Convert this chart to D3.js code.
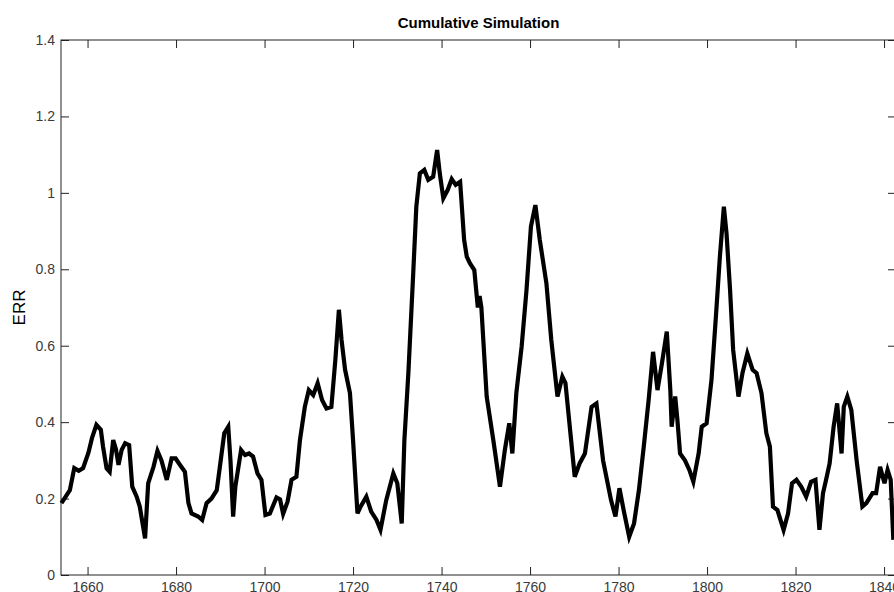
<!DOCTYPE html>
<html>
<head>
<meta charset="utf-8">
<script src="https://cdn.jsdelivr.net/npm/d3@7"></script>
<style>
  body { margin: 0; background: #fff; }
  svg { display: block; font-family: "Liberation Sans", Arial, sans-serif; }
</style>
</head>
<body>
<script>
// values
var years = [1654.1, 1656, 1657, 1658, 1659, 1660.2, 1661, 1662, 1663, 1663.5, 1664.3, 1665, 1665.8, 1666.4, 1667, 1667.7, 1668.5, 1669.4,
  1670.1, 1671.1, 1671.8, 1673, 1673.7, 1674.9, 1675.8, 1676.7, 1677.9, 1679, 1679.9, 1680.9, 1682, 1682.8, 1683.5, 1685, 1685.9,
  1686.9, 1688, 1689.2, 1689.9, 1690.9, 1691.8, 1692.3, 1692.9, 1693.4, 1694.7, 1695.6, 1696.5, 1697.4, 1698.4, 1699.3, 1700.2,
  1701.2, 1702.7, 1703.5, 1704.2, 1705.2, 1706.1, 1707.2, 1708, 1709.1, 1710, 1711, 1712, 1713, 1714, 1715.1, 1716, 1716.8,
  1717.4, 1718.2, 1719.3, 1720, 1721, 1721.7, 1723, 1724.1, 1725.3, 1726.2, 1727.5, 1729.1, 1730, 1731, 1731.6, 1732.5, 1733.6,
  1734.3, 1735.1, 1736.1, 1737, 1738.1, 1739, 1739.6, 1740.4, 1741.4, 1742.3, 1743.2, 1744.2, 1745.1, 1745.7, 1746.4, 1747.4,
  1748.2, 1748.6, 1749, 1750.2, 1751.7, 1753.2, 1754.3, 1755.3, 1756, 1756.9, 1758.1, 1759.2, 1760.2, 1761.2, 1762.2, 1763.7,
  1764.8, 1766.2, 1767.3, 1768, 1770.1, 1771.2, 1772.4, 1773.9, 1775, 1776.5, 1778.3, 1779.3, 1780.2, 1781.3, 1782.4, 1783.5,
  1784.6, 1785.7, 1786.8, 1787.8, 1788.8, 1789.8, 1790.9, 1791.7, 1792, 1792.8, 1793.3, 1793.9, 1795, 1796, 1796.9, 1798.1,
  1798.8, 1799.9, 1801, 1802, 1802.9, 1803.8, 1804.4, 1805.2, 1805.9, 1807.1, 1808, 1809.1, 1810.3, 1811.2, 1812.3, 1813.4,
  1814.2, 1814.9, 1815.9, 1817.3, 1818.3, 1819.2, 1820.2, 1821.3, 1822.4, 1823.5, 1824.5, 1825.4, 1826.2, 1826.9, 1827.7,
  1828.6, 1829.4, 1830.4, 1830.9, 1831.7, 1832.6, 1833.8, 1835.1, 1836, 1837.4, 1838.2, 1839.1, 1840.1, 1840.8, 1841.5, 1842.1];
var err = [0.188, 0.222, 0.28, 0.273, 0.28, 0.32, 0.358, 0.393, 0.38, 0.336, 0.279, 0.27, 0.353, 0.33, 0.288, 0.327, 0.345, 0.34,
  0.231, 0.205, 0.179, 0.096, 0.24, 0.283, 0.325, 0.30, 0.249, 0.305, 0.305, 0.288, 0.27, 0.188, 0.161, 0.153, 0.144,
  0.188, 0.20, 0.222, 0.283, 0.371, 0.388, 0.30, 0.153, 0.231, 0.327, 0.314, 0.318, 0.31, 0.266, 0.249, 0.157,
  0.161, 0.203, 0.198, 0.160, 0.192, 0.249, 0.257, 0.353, 0.44, 0.484, 0.471, 0.502, 0.458, 0.436, 0.44, 0.563, 0.694,
  0.615, 0.537, 0.476, 0.353, 0.161, 0.179, 0.205, 0.166, 0.144, 0.118, 0.196, 0.266, 0.24, 0.135, 0.353, 0.528, 0.79,
  0.964, 1.051, 1.06, 1.034, 1.042, 1.112, 1.051, 0.986, 1.008, 1.036, 1.021, 1.029, 0.877, 0.833, 0.816, 0.798,
  0.70, 0.73, 0.70, 0.467, 0.353, 0.231, 0.327, 0.397, 0.318, 0.476, 0.598, 0.746, 0.912, 0.968, 0.877, 0.763,
  0.615, 0.467, 0.519, 0.502, 0.257, 0.292, 0.318, 0.44, 0.449, 0.30, 0.196, 0.153, 0.227, 0.161, 0.10, 0.135,
  0.222, 0.336, 0.458, 0.584, 0.484, 0.554, 0.637, 0.484, 0.388, 0.467, 0.406, 0.318, 0.30, 0.275, 0.244, 0.318,
  0.388, 0.397, 0.51, 0.676, 0.833, 0.964, 0.894, 0.746, 0.589, 0.467, 0.528, 0.58, 0.537, 0.528, 0.476, 0.371,
  0.336, 0.179, 0.17, 0.118, 0.161, 0.24, 0.249, 0.231, 0.205, 0.244, 0.249, 0.118, 0.214, 0.249, 0.292,
  0.388, 0.449, 0.318, 0.44, 0.467, 0.432, 0.30, 0.179, 0.188, 0.214, 0.214, 0.283, 0.24, 0.275, 0.249, 0.092];
var xTicks = [1660, 1680, 1700, 1720, 1740, 1760, 1780, 1800, 1820, 1840];
var yTicks = [0, 0.2, 0.4, 0.6, 0.8, 1, 1.2, 1.4];

drawChart();

function drawChart() {
  var W = 894, H = 592;
  // right edge of the axes sits just past the window, as in the reference crop
  var m = { left: 61, right: 896, top: 40, bottom: 575 };

  var svg = d3.select('body').append('svg')
    .attr('width', W).attr('height', H);

  var x = d3.scaleLinear().domain([1654, 1842.7]).range([m.left, m.right]);
  var y = d3.scaleLinear().domain([0, 1.4]).range([m.bottom, m.top]);

  var tickLen = 8;
  var axisColor = '#222';

  // box
  svg.append('rect')
    .attr('x', m.left).attr('y', m.top)
    .attr('width', m.right - m.left).attr('height', m.bottom - m.top)
    .attr('fill', 'none').attr('stroke', axisColor).attr('stroke-width', 1);

  function styleAxis(g) {
    g.select('.domain').remove();
    g.selectAll('.tick line').attr('stroke', axisColor);
    g.selectAll('.tick text').attr('fill', '#3a3a3a').style('font-size', '14px');
  }

  // bottom axis, ticks pointing in
  svg.append('g')
    .attr('transform', 'translate(0,' + m.bottom + ')')
    .call(d3.axisBottom(x).tickValues(xTicks).tickFormat(d3.format('d'))
      .tickSizeInner(-tickLen).tickSizeOuter(0).tickPadding(7))
    .call(styleAxis);

  // top axis, ticks only
  svg.append('g')
    .attr('transform', 'translate(0,' + m.top + ')')
    .call(d3.axisTop(x).tickValues(xTicks).tickFormat('')
      .tickSizeInner(-tickLen).tickSizeOuter(0))
    .call(styleAxis);

  // left axis
  svg.append('g')
    .attr('transform', 'translate(' + m.left + ',0)')
    .call(d3.axisLeft(y).tickValues(yTicks).tickFormat(d3.format('~g'))
      .tickSizeInner(-tickLen).tickSizeOuter(0).tickPadding(6))
    .call(styleAxis);

  // right axis, ticks only
  svg.append('g')
    .attr('transform', 'translate(' + m.right + ',0)')
    .call(d3.axisRight(y).tickValues(yTicks).tickFormat('')
      .tickSizeInner(-tickLen).tickSizeOuter(0))
    .call(styleAxis);

  var line = d3.line()
    .x(function(d, i) { return x(years[i]); })
    .y(function(d) { return y(d); });

  svg.append('path')
    .datum(err)
    .attr('d', line)
    .attr('fill', 'none')
    .attr('stroke', '#000')
    .attr('stroke-width', 4.2)
    .attr('stroke-linejoin', 'miter');

  svg.append('text')
    .attr('x', (m.left + m.right) / 2).attr('y', 28)
    .attr('text-anchor', 'middle')
    .style('font-size', '15px').style('font-weight', 'bold')
    .attr('fill', '#000')
    .text('Cumulative Simulation');

  svg.append('text')
    .attr('transform', 'translate(25,' + ((m.top + m.bottom) / 2) + ') rotate(-90)')
    .attr('text-anchor', 'middle')
    .style('font-size', '17px')
    .attr('fill', '#000')
    .text('ERR');
}
</script>
</body>
</html>
